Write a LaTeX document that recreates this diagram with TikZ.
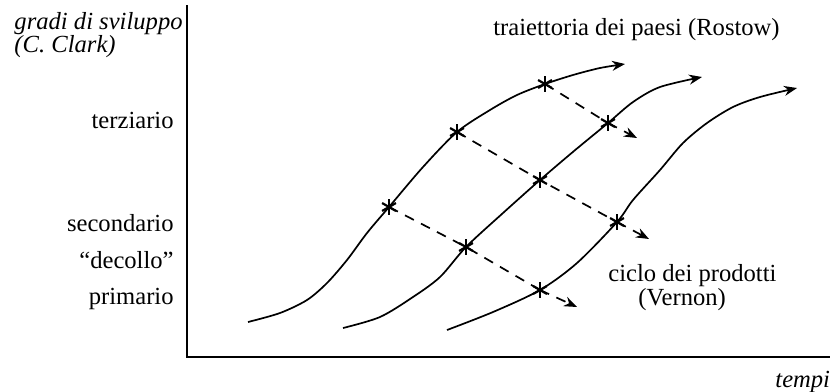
\documentclass[tikz,border=0pt]{standalone}
\usepackage{fontspec}
\setmainfont{Liberation Serif}
\usetikzlibrary{arrows.meta}
\tikzset{
  curveline/.style={line width=0.85pt},
  dline/.style={line width=0.85pt, dash pattern=on 5pt off 4pt},
  tiphead/.style={-{Stealth[length=6.5pt,width=5pt]}},
  lab/.style={inner sep=0pt, font=\fontsize{12.3}{14}\selectfont},
  axisline/.style={line width=1.2pt},
  asterisk/.pic={
    \draw[line width=1.1pt] (0,-8) -- (0,8);
    \draw[line width=1.1pt] (30:8) -- (210:8);
    \draw[line width=1.1pt] (150:8) -- (330:8);
  }
}
\begin{document}
\begin{tikzpicture}[x=0.5pt,y=-0.5pt]
\useasboundingbox (0,0) rectangle (838,391);
% axes
\coordinate (O) at (187,357);
\coordinate (Ytop) at (187,5);
\coordinate (Xend) at (830,357);
\draw[axisline] (Ytop) -- (O) -- (Xend);

% star points
\coordinate (s11) at (389,207);
\coordinate (s12) at (457,132);
\coordinate (s13) at (545,84);
\coordinate (s21) at (466,247);
\coordinate (s22) at (540,180);
\coordinate (s23) at (608,123);
\coordinate (s31) at (540,290);
\coordinate (s32) at (617,222);
% curve ends
\coordinate (a1) at (248,322);
\coordinate (a2) at (343,328);
\coordinate (a3) at (447,330);
\coordinate (e1) at (625,64);
\coordinate (e2) at (702,77);
\coordinate (e3) at (797,88);
% dashed arrow tips
\coordinate (t1) at (637,138);
\coordinate (t2) at (649,239);
\coordinate (t3) at (577,307);

% curves
\draw[curveline,tiphead] plot[smooth] coordinates {(a1) (280,313) (307,300) (327,283) (347,260) (367,233) (s11) (423,167) (s12) (490,110) (517,95) (s13) (573,75) (600,68) (e1)};
\draw[curveline,tiphead] plot[smooth] coordinates {(a2) (380,317) (413,297) (440,277) (s21) (503,213) (s22) (574,151) (s23) (633,102) (660,87) (e2)};
\draw[curveline,tiphead] plot[smooth] coordinates {(a3) (493,312) (s31) (577,263) (s32) (633,200) (660,170) (683,143) (707,123) (733,107) (760,97) (e3)};

% dashed transitions
\draw[dline] (s13) -- (s23);
\draw[dline,tiphead] (s23) -- (t1);
\draw[dline] (s12) -- (s22) -- (s32);
\draw[dline,tiphead] (s32) -- (t2);
\draw[dline] (s11) -- (s21) -- (s31);
\draw[dline,tiphead] (s31) -- (t3);

% star marks
\foreach \c in {s11,s12,s13,s21,s22,s23,s31,s32}
  \pic at (\c) {asterisk};

% labels
\node[lab, anchor=base east] (ylab1) at (183,29) {\itshape gradi di sviluppo};
\node[lab, anchor=base west] (ylab2) at (ylab1.west |- 0,52) {\itshape (C. Clark)};
\node[lab, anchor=base east] (terz) at (174,128) {terziario};
\node[lab, anchor=base east] (sec) at (174,231) {secondario};
\node[lab, anchor=base east] (dec) at (174,268) {“decollo”};
\node[lab, anchor=base east] (prim) at (174,304) {primario};
\node[lab, anchor=base west] (rostow) at (493,35) {traiettoria dei paesi (Rostow)};
\node[lab, anchor=base west] (ciclo) at (608,281) {ciclo dei prodotti};
\node[lab, anchor=base west] (vernon) at (638,305) {(Vernon)};
\node[lab, anchor=base west] (tempi) at (775,387) {\itshape tempi};
\end{tikzpicture}
\end{document}
